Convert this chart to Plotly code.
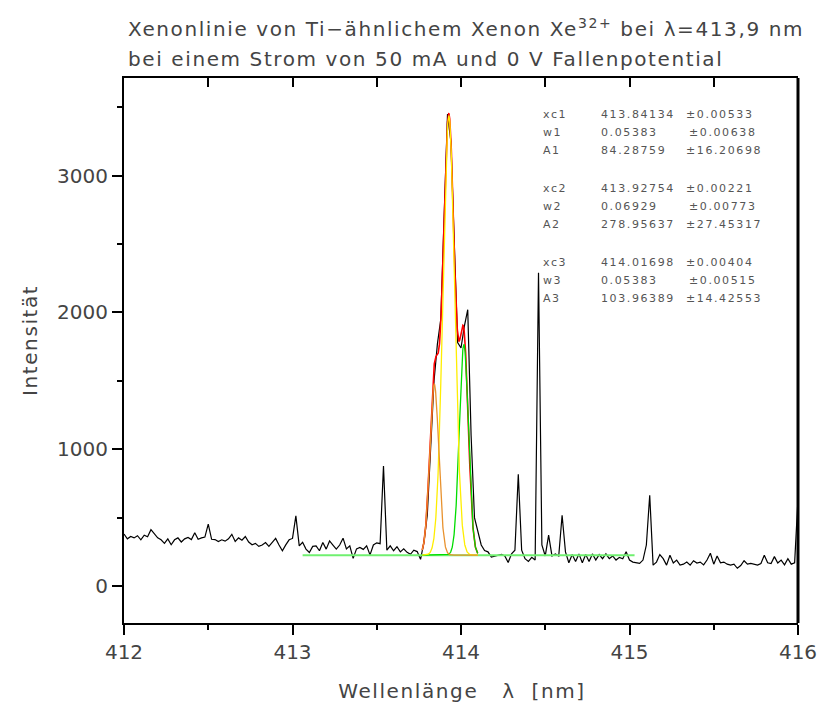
import numpy as np
import plotly.graph_objects as go

# Measured spectrum: wavelength grid (nm) and counts
wl_start = 412.0
wl_step = 0.02
intensity = [
    380, 345, 362, 352, 368, 338, 372, 360, 412, 385,
    352, 338, 312, 345, 302, 338, 352, 322, 345, 355,
    340, 390, 342, 352, 358, 452, 342, 340, 325, 338,
    328, 345, 378, 326, 352, 335, 362, 322, 302, 312,
    290, 300, 318, 290, 322, 348, 300, 258, 301, 338,
    348, 513, 294, 320, 270, 245, 290, 294, 258, 318,
    270, 330, 300, 270, 300, 350, 272, 294, 202, 272,
    282, 268, 294, 228, 300, 316, 310, 878, 262, 294,
    258, 288, 250, 272, 246, 232, 262, 252, 195, 320,
    520, 1050, 1500, 1770, 1950, 2700, 3450, 3250, 2450, 1780,
    1740, 1900, 2020, 1100, 500, 400, 300, 260, 250, 212,
    218, 228, 232, 220, 172, 236, 262, 817, 262, 200,
    180, 210, 190, 2290, 300, 220, 372, 220, 235, 220,
    518, 250, 170, 230, 180, 235, 170, 230, 180, 235,
    190, 230, 200, 235, 200, 220, 190, 210, 200, 250,
    190, 175, 170, 166, 190, 300, 664, 153, 175, 230,
    200, 153, 225, 168, 190, 153, 160, 175, 153, 185,
    168, 175, 155, 190, 240, 160, 220, 170, 175, 160,
    153, 160, 130, 150, 185, 160, 165, 160, 153, 165,
    225, 170, 165, 215, 168, 190, 155, 200, 160, 170,
    640,
]
wavelength = wl_start + wl_step * np.arange(len(intensity))

# Three-Gauss fit results
fit_xc = [413.84134, 413.92754, 414.01698]
fit_w = [0.05383, 0.06929, 0.05383]
fit_A = [84.28759, 278.95637, 103.96389]
fit_xc_err = ["±0.00533", "±0.00221", "±0.00404"]
fit_w_err = ["±0.00638", "±0.00773", "±0.00515"]
fit_A_err = ["±16.20698", "±27.45317", "±14.42553"]
fit_y0 = 226
fit_range = (413.77, 414.10)
baseline_range = (413.06, 415.03)

component_colors = ["#e8922e", "#ffee00", "#00dd00"]


def gauss(x, xc, w, A):
    return A / (w * np.sqrt(np.pi / 2)) * np.exp(-2 * ((x - xc) / w) ** 2)


xf = np.linspace(fit_range[0], fit_range[1], 400)
comps = [fit_y0 + gauss(xf, c, w, a) for c, w, a in zip(fit_xc, fit_w, fit_A)]
total = fit_y0 + sum(gauss(xf, c, w, a) for c, w, a in zip(fit_xc, fit_w, fit_A))

fig = go.Figure()
fig.add_trace(go.Scatter(x=wavelength, y=intensity, mode="lines",
                         line=dict(color="black", width=1.2)))
fig.add_trace(go.Scatter(x=list(baseline_range), y=[fit_y0, fit_y0], mode="lines",
                         line=dict(color="#70f070", width=2)))
fig.add_trace(go.Scatter(x=xf, y=total, mode="lines",
                         line=dict(color="#ff0000", width=1.6)))
for idx in (2, 1, 0):
    fig.add_trace(go.Scatter(x=xf, y=comps[idx], mode="lines",
                             line=dict(color=component_colors[idx], width=1.3)))
# carrier for the top frame axis
fig.add_trace(go.Scatter(x=[412, 416], y=[0, 0], xaxis="x2", mode="lines",
                         line=dict(width=0), hoverinfo="skip"))

L, R, T, B = 124, 798, 78, 623
W, H = 820, 708


def px(xp):
    return (xp - L) / (R - L)


def py(yp):
    return (B - yp) / (B - T)


txt = "#444444"
font_main = "DejaVu Sans"

annotations = [
    dict(text="Xenonlinie von Ti−ähnlichem Xenon Xe<sup>32+</sup> bei λ=413,9 nm",
         x=px(126), y=py(28), xanchor="left", yanchor="middle", align="left",
         font=dict(size=20, color=txt, family=font_main)),
    dict(text="bei einem Strom von 50 mA und 0 V Fallenpotential",
         x=px(126), y=py(59), xanchor="left", yanchor="middle", align="left",
         font=dict(size=20, color=txt, family=font_main)),
    dict(text="Wellenlänge   λ  [nm]", x=px(462), y=py(691),
         xanchor="center", yanchor="middle",
         font=dict(size=20, color=txt, family=font_main)),
    dict(text="Intensität", x=px(30), y=py(340), textangle=-90,
         xanchor="center", yanchor="middle",
         font=dict(size=20, color=txt, family=font_main)),
]

rows = []
for k in range(3):
    rows.append((f"xc{k + 1}", f"{fit_xc[k]:.5f}", fit_xc_err[k], 0))
    rows.append((f"w{k + 1}", f"{fit_w[k]:.5f}", fit_w_err[k], 3))
    rows.append((f"A{k + 1}", f"{fit_A[k]:.5f}", fit_A_err[k], 0))

row_y = [115, 133, 151, 188, 206, 224, 262, 280, 298]
tf = dict(size=11, color="#555555", family=font_main)
for (name, val, err, shift), yy in zip(rows, row_y):
    annotations.append(dict(text=name, x=px(541), y=py(yy), xanchor="left",
                            yanchor="middle", align="left", font=tf))
    annotations.append(dict(text=val, x=px(599), y=py(yy), xanchor="left",
                            yanchor="middle", align="left", font=tf))
    annotations.append(dict(text=err, x=px(684 + shift), y=py(yy), xanchor="left",
                            yanchor="middle", align="left", font=tf))

for a in annotations:
    a.update(xref="paper", yref="paper", showarrow=False)

fig.update_layout(
    width=W, height=H,
    margin=dict(l=L, r=W - R, t=T, b=H - B, autoexpand=False),
    paper_bgcolor="white", plot_bgcolor="white",
    showlegend=False,
    annotations=annotations,
    xaxis=dict(range=[412, 416], dtick=1, tick0=412, ticks="outside", ticklen=10,
               tickwidth=1.5, tickcolor="black", showline=True, linecolor="black",
               linewidth=2, showgrid=False, zeroline=False, automargin=False,
               minor=dict(dtick=0.5, ticks="outside", ticklen=5, tickwidth=1.5,
                          tickcolor="black", showgrid=False),
               tickfont=dict(size=20, color=txt, family=font_main)),
    xaxis2=dict(range=[412, 416], overlaying="x", side="top", dtick=0.5,
                ticks="inside", ticklen=9, tickwidth=1.5, tickcolor="black",
                showticklabels=False, showline=True, linecolor="black",
                linewidth=1.5, showgrid=False, zeroline=False, automargin=False),
    yaxis=dict(range=[-270, 3713], dtick=1000, tick0=0, ticks="outside", ticklen=10,
               tickwidth=1.5, tickcolor="black", showline=True, linecolor="black",
               linewidth=2, showgrid=False, zeroline=False, automargin=False,
               minor=dict(dtick=500, ticks="outside", ticklen=5, tickwidth=1.5,
                          tickcolor="black", showgrid=False),
               tickfont=dict(size=20, color=txt, family=font_main)),
    shapes=[dict(type="line", xref="paper", yref="paper", x0=1, x1=1, y0=0, y1=1,
                 line=dict(color="black", width=3))],
)

# wide letter spacing for the annotation texts
spacing_js = """
var gd = document.getElementById('{plot_id}');
function spreadText() {
  gd.querySelectorAll('.annotation-text').forEach(function (t) {
    t.style.letterSpacing = '1.6px';
  });
}
spreadText();
gd.on('plotly_afterplot', spreadText);
"""

fig.write_html("out.html", post_script=spacing_js)
